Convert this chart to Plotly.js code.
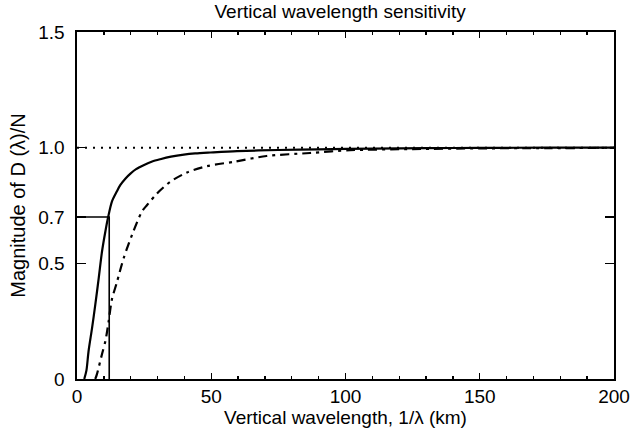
<!DOCTYPE html>
<html>
<head>
<meta charset="utf-8">
<script src="https://cdn.plot.ly/plotly-3.0.1.min.js"></script>
<style>html,body{margin:0;padding:0;background:#fff;}#chart{width:632px;height:436px;}</style>
</head>
<body>
<div id="chart"></div>
<script>
// Solid curve
var solidX = [2.7, 3.5, 4.3, 5.6, 6.8, 8.1, 9.3, 10.6, 11.6, 13, 14.8, 16.1, 18, 19.9, 22, 24.8, 28, 31, 35, 39.8, 44, 49.7, 59.6, 75, 90, 110, 130, 150, 175, 200];
var solidY = [0, 0.036, 0.12, 0.22, 0.32, 0.437, 0.55, 0.64, 0.70, 0.767, 0.81, 0.838, 0.866, 0.888, 0.907, 0.924, 0.94, 0.95, 0.961, 0.97, 0.975, 0.979, 0.985, 0.99, 0.993, 0.996, 0.998, 0.999, 1.0, 1.0];
// Dash-dot curve
var dashX = [6.8, 7.4, 9.3, 10.6, 11.8, 13, 14.9, 17.4, 20.5, 24.2, 26.1, 29.8, 34.8, 41, 48.4, 58.4, 70.6, 86.8, 101.7, 125, 150, 175, 200];
var dashY = [0, 0.02, 0.107, 0.165, 0.25, 0.344, 0.42, 0.523, 0.623, 0.724, 0.752, 0.802, 0.853, 0.893, 0.92, 0.939, 0.964, 0.977, 0.989, 0.994, 0.997, 0.998, 0.999];
// Reference lines
var refLevel = 1.0;
var cutX = 12;
var cutY = 0.7;
var xTickVals = [0, 50, 100, 150, 200];
var xTickText = ["0", "50", "100", "150", "200"];
var yTickVals = [0, 0.5, 0.7, 1.0, 1.5];
var yTickText = ["0", "0.5", "0.7", "1.0", "1.5"];

var font = {family: "Liberation Sans, Arial, sans-serif", color: "#000"};

var traces = [
  {x: [0, 200], y: [refLevel, refLevel], mode: "lines", line: {color: "#000", width: 2, dash: "2px,6px"}, hoverinfo: "skip"},
  {x: [0, cutX, cutX], y: [cutY, cutY, 0], mode: "lines", line: {color: "#000", width: 1.6}, hoverinfo: "skip"},
  {x: dashX, y: dashY, mode: "lines", line: {color: "#000", width: 2.2, dash: "9px,5px,3px,5px", shape: "spline", smoothing: 0.8}},
  {x: solidX, y: solidY, mode: "lines", line: {color: "#000", width: 2.2, shape: "spline", smoothing: 0.8}}
];

var layout = {
  width: 632, height: 436,
  margin: {l: 77, r: 18, t: 32, b: 57},
  paper_bgcolor: "#fff", plot_bgcolor: "#fff",
  showlegend: false,
  font: Object.assign({size: 19}, font),
  title: {text: "Vertical wavelength sensitivity", font: Object.assign({size: 19}, font), x: 0.49, xref: "paper", y: 0.974, yref: "container", yanchor: "middle"},
  xaxis: {
    range: [0, 200], showgrid: false, zeroline: false,
    showline: true, linecolor: "#000", linewidth: 1.6, mirror: "allticks",
    ticks: "inside", ticklen: 6, tickwidth: 1.4, tickcolor: "#000",
    tickvals: xTickVals, ticktext: xTickText,
    minor: {dtick: 10, ticks: "inside", ticklen: 3, tickwidth: 1.4, tickcolor: "#000", showgrid: false},
    tickfont: Object.assign({size: 19}, font),
    title: {text: "Vertical wavelength, 1/λ (km)", font: Object.assign({size: 19}, font), standoff: 2}
  },
  yaxis: {
    range: [0, 1.5], showgrid: false, zeroline: false,
    showline: true, linecolor: "#000", linewidth: 1.6, mirror: "allticks",
    ticks: "inside", ticklen: 9, tickwidth: 1.4, tickcolor: "#000",
    tickvals: yTickVals, ticktext: yTickText,
    tickfont: Object.assign({size: 19}, font),
    ticklabelstandoff: 7,
    title: {text: "Magnitude of D (λ)/N", font: Object.assign({size: 20}, font), standoff: 7}
  }
};

Plotly.newPlot("chart", traces, layout, {staticPlot: true, displayModeBar: false});
</script>
</body>
</html>
